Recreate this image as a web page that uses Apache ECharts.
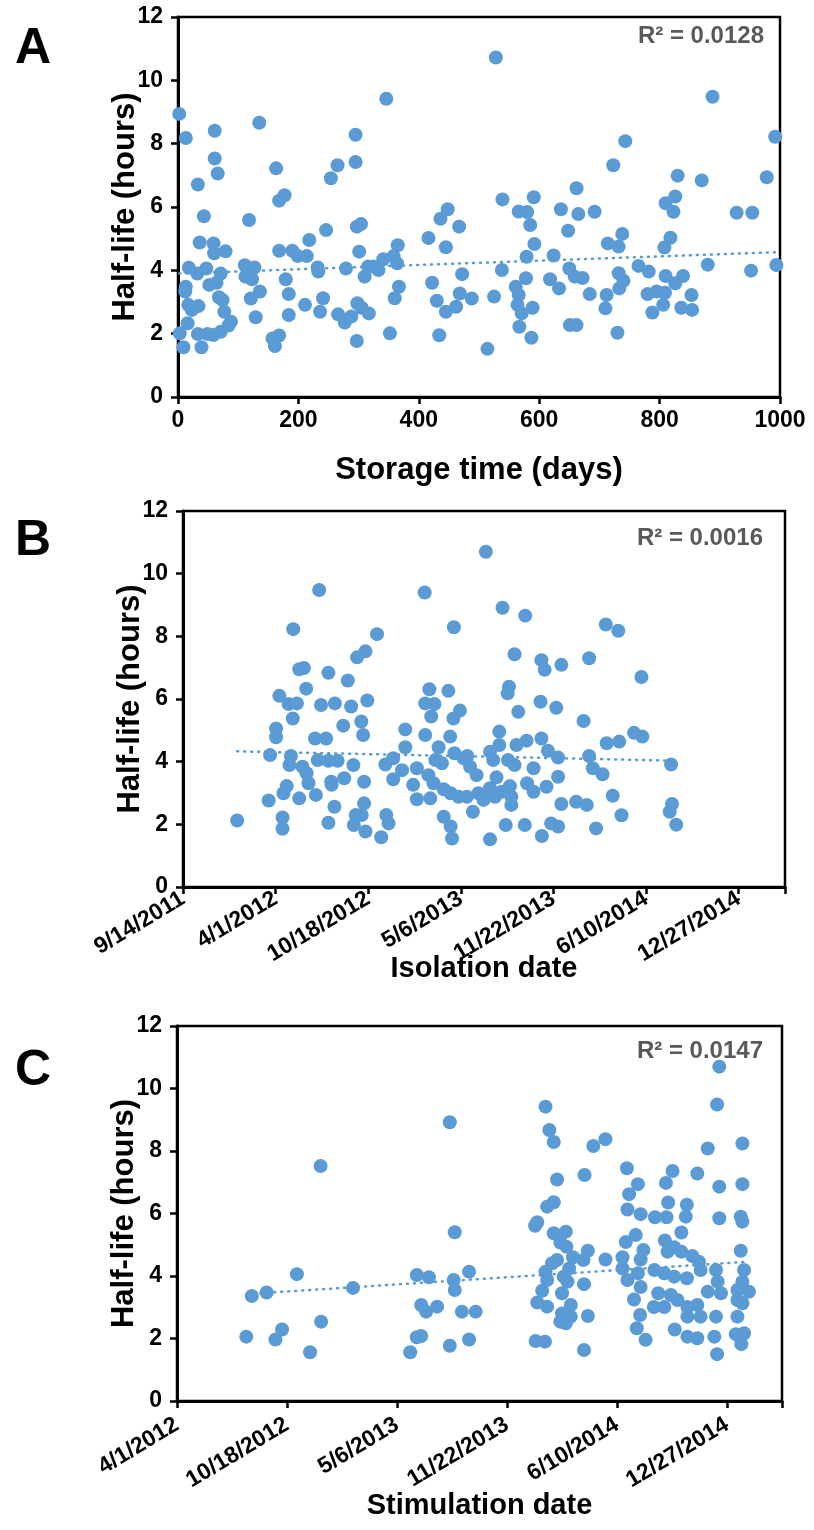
<!DOCTYPE html>
<html>
<head>
<meta charset="utf-8">
<script src="https://cdn.jsdelivr.net/npm/echarts@6/dist/echarts.min.js"></script>
<style>
  html, body { margin: 0; padding: 0; background: #fff; }
  #chart { width: 814px; height: 1530px; }
</style>
</head>
<body>
<div id="chart"></div>
<script>
// Panel A: storage time (days) vs half-life (hours)
const storageDays = [
  2, 13, 61, 135, 295, 61, 66, 295, 265, 254, 163, 33, 168, 177, 43, 118, 297, 304, 246, 218,
  36, 59, 60, 79, 168, 190, 199, 214, 301, 18, 32, 47, 71, 111, 127, 112, 123, 232, 233, 279,
  310, 316, 13, 12, 52, 64, 179, 184, 136, 121, 68, 74, 17, 34, 23, 241, 298, 317, 305, 77,
  88, 84, 129, 184, 211, 236, 266, 277, 288, 16, 3, 33, 49, 59, 71, 9, 39, 157, 168, 161, 297,
  528, 346, 539, 591, 566, 580, 585, 636, 662, 665, 648, 448, 436, 467, 416, 445, 592, 365, 358,
  341, 324, 333, 364, 579, 624, 538, 650, 659, 618, 633, 578, 472, 422, 367, 360, 430, 445, 462,
  468, 488, 525, 561, 566, 564, 571, 589, 567, 587, 651, 662, 352, 434, 514,
  888, 992, 743, 723, 830, 870, 978, 826, 810, 823, 692, 928, 954, 738, 714, 732, 818, 808, 880,
  952, 994, 672, 765, 782, 732, 740, 733, 810, 826, 839, 684, 712, 710, 780, 795, 809, 853, 806,
  788, 836, 854, 730
];
const halfLifeA = [
  8.94, 8.18, 8.41, 8.66, 8.28, 7.53, 7.06, 7.42, 7.32, 6.91, 7.22, 6.71, 6.2, 6.37, 5.71, 5.59, 5.38, 5.46, 5.27, 4.96,
  4.88, 4.85, 4.54, 4.6, 4.62, 4.62, 4.45, 4.45, 4.59, 4.08, 3.9, 4.06, 3.9, 4.16, 4.09, 3.8, 3.72, 4.09, 3.96, 4.06,
  3.8, 4.12, 3.48, 3.33, 3.54, 3.61, 3.72, 3.25, 3.33, 3.11, 3.15, 3.06, 2.91, 2.87, 2.75, 3.12, 2.96, 2.64, 2.82, 2.69,
  2.38, 2.26, 2.52, 2.59, 2.91, 2.69, 2.61, 2.35, 2.54, 2.33, 2.01, 1.99, 1.99, 1.96, 2.06, 1.57, 1.57, 1.85, 1.94, 1.61, 1.77,
  10.72, 9.42, 6.24, 6.31, 5.86, 5.84, 5.43, 5.93, 6.59, 5.78, 5.25, 5.93, 5.63, 5.38, 5.02, 4.73, 4.83, 4.79, 4.45,
  4.35, 4.12, 4.01, 4.22, 4.43, 4.47, 4.01, 4.06, 3.8, 3.72, 3.43, 3.75, 3.88, 3.61, 3.48, 3.12, 3.04, 2.69, 2.85,
  3.27, 3.11, 3.17, 3.48, 3.22, 2.91, 2.64, 2.82, 2.22, 1.87, 2.27, 2.27, 2.01, 1.95, 1.52,
  9.48, 8.22, 8.08, 7.32, 6.99, 6.84, 6.94, 6.33, 6.12, 5.85, 5.85, 5.82, 5.82, 5.15, 4.85, 4.75, 5.03, 4.72, 4.18,
  3.99, 4.17, 3.76, 4.14, 3.96, 3.91, 3.67, 3.43, 3.82, 3.59, 3.82, 3.25, 3.22, 2.8, 3.25, 3.33, 3.29, 3.22, 2.91,
  2.67, 2.82, 2.75, 2.03
];

// Panel B: isolation date (Excel date serials) vs half-life
const isolationDate = [
  40917, 40985, 41015, 41015, 41017, 41024, 41051, 41087, 41114, 41127, 41121, 41120, 41148, 41169, 41173, 41186, 41194, 41191, 41191,
  40988, 41033, 41030, 41058, 41067, 41071, 41091, 41114, 41134, 41168, 41001, 41001, 41037, 41085, 41109, 41146, 41185, 41189,
  41008, 41028, 41046, 41098, 41128, 41163, 41198, 41066, 41051, 41061, 41114, 41156, 41176, 41194, 41038, 41094,
  41454, 41322, 41490, 41539, 41385, 41219, 41516, 41574, 41581, 41617, 41332, 41373, 41323, 41343, 41336, 41504, 41501, 41572,
  41606, 41524, 41398, 41384, 41280, 41323, 41377, 41483, 41280, 41352, 41520, 41542, 41574, 41588, 41610, 41254, 41237, 41254,
  41273, 41305, 41297, 41305, 41334, 41345, 41359, 41386, 41406, 41414, 41420, 41434, 41330, 41341, 41363, 41378, 41395, 41413,
  41426, 41438, 41449, 41463, 41470, 41483, 41477, 41463, 41474, 41488, 41506, 41509, 41509, 41502, 41516, 41543, 41557, 41557,
  41585, 41610, 41617, 41363, 41378, 41381, 41239, 41244, 41228, 41497, 41538, 41463, 41575, 41595, 41610,
  41713, 41740, 41677, 41790, 41665, 41715, 41742, 41774, 41792, 41677, 41685, 41706, 41854, 41649, 41672, 41728, 41747, 41692,
  41856, 41851, 41865
];
const halfLifeB = [
  2.12, 2.76, 2.22, 1.86, 2.99, 3.22, 2.83, 2.94, 2.05, 2.56, 3.26, 3.36, 3.47, 1.98, 2.3, 2.3, 1.77, 2.67, 3.36,
  4.21, 4.18, 3.89, 3.84, 3.63, 3.31, 4.05, 4.03, 4.03, 3.89, 5.06, 4.78, 5.38, 4.74, 4.74, 5.15, 5.28, 4.85,
  6.1, 5.84, 5.86, 5.81, 5.86, 5.76, 5.95, 6.33, 6.95, 6.99, 6.84, 6.59, 7.33, 7.52, 8.23, 9.48,
  10.7, 9.4, 8.91, 8.66, 8.29, 8.07, 7.43, 7.24, 6.93, 7.09, 6.31, 6.26, 5.86, 5.84, 5.44, 6.39, 6.18, 5.91,
  5.72, 5.59, 5.63, 5.38, 5.03, 4.85, 4.8, 4.96, 4.46, 4.46, 4.53, 4.67, 4.74, 4.35, 4.13, 4.11, 3.91, 3.44,
  3.73, 3.79, 3.26, 2.8, 2.83, 4.05, 3.95, 4.27, 4.11, 4.18, 3.84, 3.57, 3.57, 3.31, 3.12, 2.99, 2.88, 2.88,
  2.4, 2.99, 2.78, 4.32, 4.05, 4.53, 3.5, 3.15, 2.88, 3.04, 3.22, 2.88, 2.62, 4.05, 3.89, 3.31, 3.79, 3.04,
  3.2, 3.52, 2.65, 2.24, 1.93, 1.55, 2.3, 2.03, 1.59, 1.98, 1.98, 1.52, 1.63, 2.03, 1.93,
  8.38, 8.18, 7.3, 6.7, 5.3, 4.59, 4.64, 4.92, 4.8, 4.18, 3.79, 3.6, 3.91, 2.72, 2.62, 2.91, 2.29, 1.87,
  2.65, 2.4, 1.99
];

// Panel C: stimulation date (Excel date serials) vs half-life
const stimulationDate = [
  41261, 41218, 41136, 41163, 41320, 41126, 41191, 41179, 41262, 41242,
  41496, 41505, 41436, 41458, 41503, 41505, 41531, 41444, 41453, 41473, 41518, 41543, 41436, 41444, 41424, 41496, 41531,
  41670, 41677, 41685, 41691, 41685, 41673, 41651, 41655, 41685, 41697, 41691, 41682, 41670, 41673, 41703, 41664, 41655,
  41673, 41700, 41697, 41652, 41669, 41700,
  41986, 41982, 42028, 41965, 41757, 41779, 41741, 41818, 41901, 41946, 42028, 41986, 41838, 41889, 41822, 41819, 41893,
  41927, 41843, 41869, 41890, 41925, 41986, 42025, 42028, 41707, 41834, 41917, 41816, 41887, 41708, 41747, 41779, 41810,
  41848, 41843, 41892, 41904, 41917, 41937, 41949, 42025, 41720, 41739, 41713, 41810, 41819, 41838, 41868, 41886, 41904,
  41927, 41952, 41980, 42031, 41710, 41740, 41843, 41831, 41875, 41898, 41910, 41965, 41989, 41983, 42019, 42040, 42028,
  42019, 42028, 41716, 41867, 41886, 41928, 41946, 41952, 41928, 41980, 41716, 41707, 41747, 42019, 41842, 41836, 41905,
  41928, 41946, 41977, 42016, 42031, 41852, 42026, 41982, 41740
];
const halfLifeC = [
  7.52, 4.06, 3.36, 3.47, 3.62, 2.06, 2.29, 1.97, 2.54, 1.56,
  8.92, 5.4, 4.03, 3.96, 3.87, 3.55, 4.14, 3.07, 2.86, 3.02, 2.86, 2.86, 2.04, 2.08, 1.56, 1.77, 1.97,
  9.42, 8.67, 8.29, 7.09, 6.36, 6.22, 5.61, 5.72, 5.37, 5.07, 4.51, 4.41, 4.14, 3.87, 3.98, 3.53, 3.15,
  3.02, 3.45, 2.54, 1.92, 1.9, 2.8,
  10.7, 9.49, 8.24, 8.08, 8.16, 8.38, 7.23, 7.45, 7.36, 7.28, 6.94, 6.86, 6.94, 6.98, 6.62, 6.13, 6.35,
  6.28, 5.98, 5.88, 5.88, 5.9, 5.85, 5.9, 5.74, 5.42, 5.31, 5.39, 5.09, 5.14, 4.94, 4.81, 4.53, 4.6,
  4.83, 4.53, 4.78, 4.92, 4.78, 4.64, 4.46, 4.81, 4.6, 4.51, 4.24, 4.24, 3.87, 4.09, 4.19, 4.09, 3.98,
  3.93, 4.19, 4.19, 4.19, 3.82, 3.74, 3.65, 3.25, 3.45, 3.39, 3.23, 3.5, 3.45, 3.82, 3.55, 3.5, 3.82,
  3.23, 3.13, 3.07, 3.01, 3.01, 3.01, 3.07, 2.7, 2.7, 2.7, 2.7, 2.49, 2.72, 2.7, 2.75, 2.33, 2.29,
  2.06, 2.01, 2.06, 2.14, 2.17, 1.96, 1.82, 1.5, 1.63
];

// linear trendline end points
const trendA = [[2, 3.9], [994, 4.57]];
const trendB = [[40917, 4.33], [41865, 4.03]];
const trendC = [[41126, 3.42], [42040, 4.46]];
const r2Labels = ["R\u00b2 = 0.0128", "R\u00b2 = 0.0016", "R\u00b2 = 0.0147"];

const FONT = "'Liberation Sans', Arial, sans-serif";
const BLUE = "#5B9BD5";

const zip = (xs, ys) => xs.map((x, i) => [x, ys[i]]);

// Excel serial -> m/d/yyyy
const serialToDate = (serial) => {
  const d = new Date((serial - 25569) * 86400000);
  return `${d.getUTCMonth() + 1}/${d.getUTCDate()}/${d.getUTCFullYear()}`;
};

const grids = [
  { left: 178, top: 17, width: 602, height: 380 },
  { left: 183, top: 511, width: 602, height: 376 },
  { left: 177, top: 1026, width: 605, height: 375 },
];

const axisLine = { lineStyle: { color: "#000", width: 3 } };
const axisTick = { length: 7, lineStyle: { color: "#000", width: 2.5 } };
const tickFont = { color: "#000", fontFamily: FONT, fontWeight: "bold", fontSize: 23 };
const nameFont = (size) => ({ color: "#000", fontFamily: FONT, fontWeight: "bold", fontSize: size });

const dateAxis = (idx, min, max, name, gap, margin) => ({
  gridIndex: idx,
  type: "value",
  min,
  max,
  interval: 200,
  name,
  nameLocation: "middle",
  nameGap: gap,
  nameMoveOverlap: false,
  nameTextStyle: nameFont(29),
  axisLine,
  axisTick,
  splitLine: { show: false },
  axisLabel: {
    ...tickFont,
    rotate: 31,
    margin,
    formatter: (v) => ((v - min) % 200 === 0 ? serialToDate(v) : ""),
  },
});

const yAxis = (idx) => ({
  gridIndex: idx,
  type: "value",
  min: 0,
  max: 12,
  interval: 2,
  name: "Half-life (hours)",
  nameLocation: "middle",
  nameGap: 37,
  nameMoveOverlap: false,
  nameTextStyle: nameFont(31),
  axisLine,
  axisTick,
  splitLine: { show: false },
  axisLabel: { ...tickFont, margin: 15 },
});

const scatter = (idx, data) => ({
  type: "scatter",
  xAxisIndex: idx,
  yAxisIndex: idx,
  data,
  symbolSize: 14,
  itemStyle: { color: BLUE, opacity: 1 },
  z: 3,
});

const trend = (idx, data) => ({
  type: "line",
  xAxisIndex: idx,
  yAxisIndex: idx,
  data,
  showSymbol: false,
  lineStyle: { color: BLUE, width: 2.5, type: [1, 6], cap: "round" },
  z: 4,
});

const chart = echarts.init(document.getElementById("chart"));

chart.setOption({
  animation: false,
  backgroundColor: "#fff",
  title: [
    ...["A", "B", "C"].map((t, i) => ({
      text: t,
      left: 10,
      top: [19, 511, 1041][i],
      textStyle: { fontFamily: FONT, fontWeight: "bold", fontSize: 50, color: "#000" },
    })),
    ...r2Labels.map((t, i) => ({
      text: t,
      right: [45, 46, 46][i],
      top: [19, 521, 1034][i],
      textStyle: { fontFamily: FONT, fontWeight: "bold", fontSize: 24, color: "#595959" },
    })),
  ],
  grid: grids.map((g) => ({ ...g, show: true, borderColor: "#000", borderWidth: 2.5 })),
  xAxis: [
    {
      gridIndex: 0,
      type: "value",
      min: 0,
      max: 1000,
      interval: 200,
      name: "Storage time (days)",
      nameLocation: "middle",
      nameGap: 58,
      nameMoveOverlap: false,
      nameTextStyle: nameFont(31),
      axisLine,
      axisTick,
      splitLine: { show: false },
      axisLabel: { ...tickFont, margin: 12, formatter: (v) => String(v) },
    },
    dateAxis(1, 40800, 42100, "Isolation date", 67, 10),
    dateAxis(2, 41000, 42100, "Stimulation date", 90, 22),
  ],
  yAxis: [yAxis(0), yAxis(1), yAxis(2)],
  series: [
    scatter(0, zip(storageDays, halfLifeA)),
    scatter(1, zip(isolationDate, halfLifeB)),
    scatter(2, zip(stimulationDate, halfLifeC)),
    trend(0, trendA),
    trend(1, trendB),
    trend(2, trendC),
  ],
});
</script>
</body>
</html>
